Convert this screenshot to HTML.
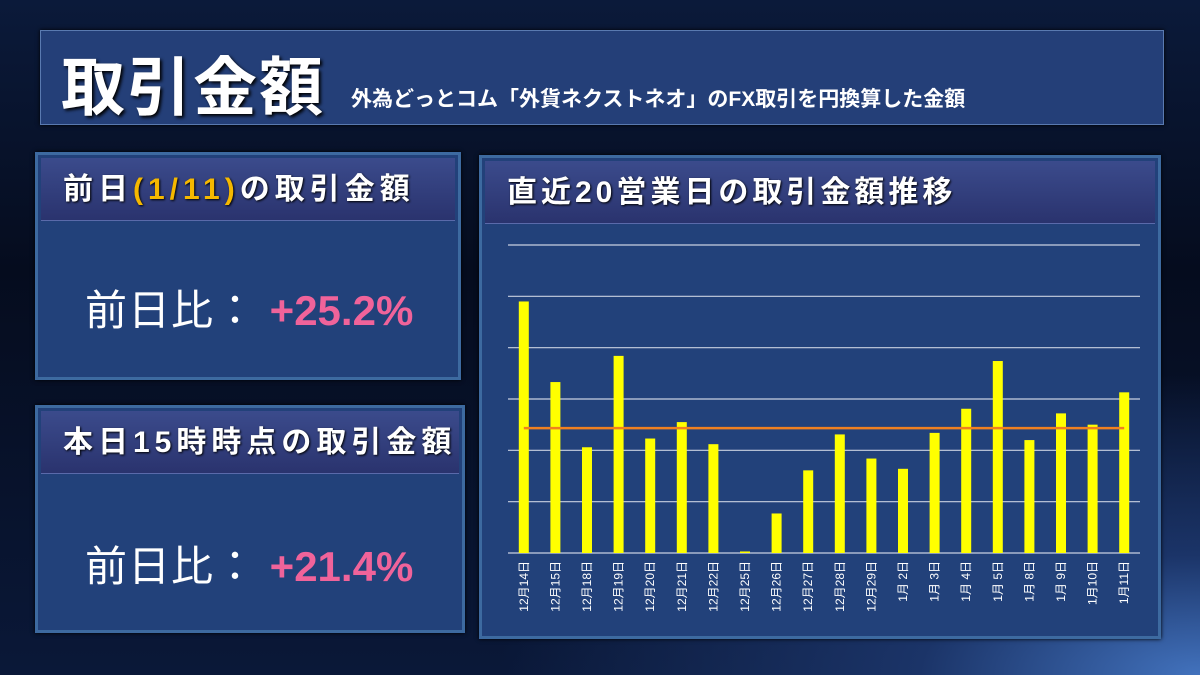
<!DOCTYPE html>
<html><head><meta charset="utf-8"><style>
*{margin:0;padding:0;box-sizing:border-box}
body{width:1200px;height:675px;overflow:hidden;font-family:"Liberation Sans","Noto Sans CJK JP",sans-serif;
background:radial-gradient(ellipse 700px 300px at 1200px 675px,#4272bd 0%,#1b3468 40%,rgba(10,20,45,0) 100%),linear-gradient(180deg,#0b1a3a 0%,#050c1e 40%,#0a1838 100%);position:relative}
.box{position:absolute;background:#22417a;border:3px solid #3d6aa0;box-shadow:0 0 4px #000}
.hdr{position:absolute;left:3px;right:3px;top:3px;height:63px;background:linear-gradient(180deg,#3b4b8c,#2a336e);color:#fff;font-weight:bold;font-size:30px;letter-spacing:5px;padding-left:22px;line-height:63px;border-bottom:1px solid #5a6aaa;text-shadow:1px 1px 2px #000;white-space:nowrap}
.big{position:absolute;color:#fff;font-size:42px;letter-spacing:1px;white-space:nowrap}
.pct{color:#f0639a;font-weight:bold;letter-spacing:0}
</style></head><body>
<div class="box" style="left:40px;top:30px;width:1124px;height:95px;background:#243f78;border:1px solid #5a7ab0">
<span style="position:absolute;left:20px;top:6px;font-size:64px;letter-spacing:2px;font-weight:bold;color:#fff;text-shadow:2px 2px 3px #000">取引金額</span>
<span style="position:absolute;left:310px;top:52px;font-size:21px;font-weight:bold;color:#fff">外為どっとコム「外貨ネクストネオ」のFX取引を円換算した金額</span>
</div>
<div class="box" style="left:35px;top:152px;width:426px;height:228px">
<div class="hdr">前日<span style="color:#f5b800">(1/11)</span>の取引金額</div>
<div class="big" style="left:47px;top:122px">前日比： <span class="pct">+25.2%</span></div>
</div>
<div class="box" style="left:35px;top:405px;width:430px;height:228px">
<div class="hdr">本日15時時点の取引金額</div>
<div class="big" style="left:47px;top:125px">前日比： <span class="pct">+21.4%</span></div>
</div>
<div class="box" style="left:479px;top:155px;width:682px;height:484px">
<div class="hdr" style="letter-spacing:4px">直近20営業日の取引金額推移</div>
</div>
<svg id="chart" width="1200" height="675" style="position:absolute;left:0;top:0"></svg>
<script>
const categories=["12月14日","12月15日","12月18日","12月19日","12月20日","12月21日","12月22日","12月25日","12月26日","12月27日","12月28日","12月29日","1月 2日","1月 3日","1月 4日","1月 5日","1月 8日","1月 9日","1月10日","1月11日"];
const values=[4.90,3.33,2.06,3.84,2.23,2.55,2.12,0.03,0.77,1.61,2.31,1.84,1.64,2.34,2.81,3.74,2.20,2.72,2.50,3.13];
const yTicks=[0,1,2,3,4,5,6];
const svg=document.getElementById('chart');const NS='http://www.w3.org/2000/svg';
const x0=508,x1=1140,yBase=553,yTop=245,yMax=6;
const y=v=>yBase-(v/yMax)*(yBase-yTop);
const step=(x1-x0)/categories.length;
const xc=i=>x0+step*(i+0.5);
function mk(t,a){const e=document.createElementNS(NS,t);for(const k in a)e.setAttribute(k,a[k]);svg.appendChild(e);return e;}
yTicks.forEach(t=>{const l=mk('line',{x1:x0,x2:x1,y1:y(t),y2:y(t),stroke:'#c8d0e0','stroke-width':1.2});

});
values.forEach((v,i)=>{const r=mk('rect',{x:xc(i)-5,y:y(v),width:10,height:yBase-y(v),fill:'#ffff00'});


const tx=mk('text',{x:0,y:0,fill:'#fff','font-size':12,'text-anchor':'end',transform:`translate(${xc(i)+4},${yBase+8}) rotate(-90)`});
tx.textContent=categories[i];

});
const avg=values.reduce((a,b)=>a+b,0)/values.length;
const al=mk('line',{x1:xc(0),x2:xc(values.length-1),y1:y(avg),y2:y(avg),stroke:'#f08020','stroke-width':2.5});


</script>
</body></html>
